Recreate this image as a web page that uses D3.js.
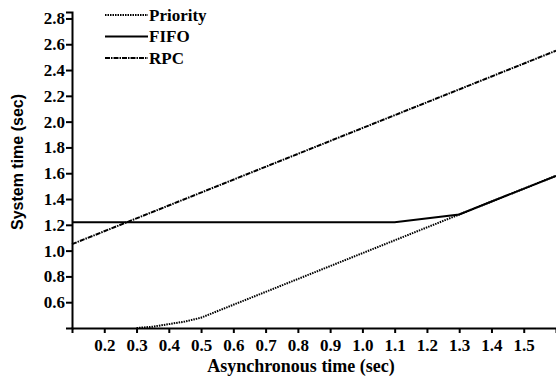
<!DOCTYPE html>
<html>
<head>
<meta charset="utf-8">
<script src="https://cdn.jsdelivr.net/npm/d3@7"></script>
<style>
  body { margin: 0; background: #fff; }
  svg text { font-family: 'Liberation Serif', 'Times New Roman', Times, serif; font-weight: bold; fill: #000; }
</style>
</head>
<body>
<div id="chart"></div>
<script>
// data
const xTicks = [0.2, 0.3, 0.4, 0.5, 0.6, 0.7, 0.8, 0.9, 1.0, 1.1, 1.2, 1.3, 1.4, 1.5];
const yTicks = [0.6, 0.8, 1.0, 1.2, 1.4, 1.6, 1.8, 2.0, 2.2, 2.4, 2.6, 2.8];
const seriesNames = ['Priority', 'FIFO', 'RPC'];
const priorityX = [0.3, 0.35, 0.4, 0.45, 0.5, 0.55, 0.6, 1.6];
const priorityY = [0.40, 0.41, 0.43, 0.45, 0.48, 0.53, 0.58, 1.58];
const fifoX = [0.1, 1.1, 1.3, 1.6];
const fifoY = [1.22, 1.22, 1.28, 1.58];
const rpcX = [0.1, 1.6];
const rpcY = [1.05, 2.55];

const width = 556, height = 385;
const margin = {top: 12, right: 0, bottom: 57, left: 72};
const serif = "'Liberation Serif', 'Times New Roman', Times, serif";
const sans = "'Liberation Sans', Arial, Helvetica, sans-serif";

const svg = d3.select('#chart').append('svg')
    .attr('width', width)
    .attr('height', height)
    .attr('font-family', serif);

const x = d3.scaleLinear().domain([0.1, 1.6]).range([margin.left, width - margin.right]);
const y = d3.scaleLinear().domain([0.4, 2.85]).range([height - margin.bottom, margin.top]);

const zip = (xs, ys) => xs.map((v, i) => ({x: v, y: ys[i]}));
const dashes = {Priority: '1.5,1', FIFO: null, RPC: '5,1,1.5,1'};
const series = [
    {name: seriesNames[0], values: zip(priorityX, priorityY)},
    {name: seriesNames[1], values: zip(fifoX, fifoY)},
    {name: seriesNames[2], values: zip(rpcX, rpcY)}
];

// axes
const xAxis = svg.append('g')
    .attr('transform', `translate(0, ${y(0.4)})`)
    .call(d3.axisBottom(x).tickValues(xTicks).tickSize(5).tickPadding(6).tickFormat(d3.format('.1f')));
const yAxis = svg.append('g')
    .attr('transform', `translate(${x(0.1)}, 0)`)
    .call(d3.axisLeft(y).tickValues(yTicks).tickSize(6).tickPadding(1).tickFormat(d3.format('.1f')));

[xAxis, yAxis].forEach(ax => {
    ax.attr('font-family', serif).attr('font-size', 17);
    ax.select('.domain').attr('stroke', '#000').attr('stroke-width', 2);
    ax.selectAll('.tick line').attr('stroke', '#000').attr('stroke-width', 2);
    ax.selectAll('.tick text').attr('fill', '#000');
});

// lines
const line = d3.line().x(d => x(d.x)).y(d => y(d.y));
series.forEach(s => {
    svg.append('path')
        .datum(s.values)
        .attr('d', line)
        .attr('fill', 'none')
        .attr('stroke', '#000')
        .attr('stroke-width', 2)
        .attr('stroke-dasharray', dashes[s.name]);
});

// legend
const legend = svg.append('g').attr('transform', 'translate(105, 15)');
series.forEach((s, i) => {
    const row = legend.append('g').attr('transform', `translate(0, ${i * 21.5})`);
    row.append('line')
        .attr('x1', 0).attr('x2', 43)
        .attr('stroke', '#000')
        .attr('stroke-width', 2)
        .attr('stroke-dasharray', dashes[s.name]);
    row.append('text')
        .attr('x', 44)
        .attr('y', 5.5)
        .attr('font-size', 17)
        .text(s.name);
});

// axis titles
svg.append('text')
    .attr('x', 301)
    .attr('y', 372)
    .attr('text-anchor', 'middle')
    .attr('font-size', 18)
    .text('Asynchronous time (sec)');
svg.append('text')
    .attr('transform', 'translate(23, 162) rotate(-90)')
    .attr('text-anchor', 'middle')
    .style('font-family', sans)
    .attr('font-size', 16)
    .text('System time (sec)');
</script>
</body>
</html>
